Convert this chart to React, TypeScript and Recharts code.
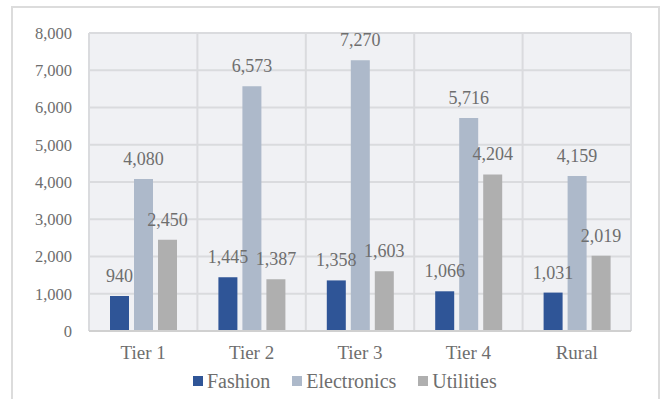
import React from "react";
import { BarChart, Bar, XAxis, YAxis, CartesianGrid, Legend, LabelList } from "recharts";

const categories = ["Tier 1", "Tier 2", "Tier 3", "Tier 4", "Rural"];
const fashion = [940, 1445, 1358, 1066, 1031];
const electronics = [4080, 6573, 7270, 5716, 4159];
const utilities = [2450, 1387, 1603, 4204, 2019];
const yTicks = [0, 1000, 2000, 3000, 4000, 5000, 6000, 7000, 8000];

const seriesList = [
  { key: "fashion", name: "Fashion", color: "#2F5597" },
  { key: "electronics", name: "Electronics", color: "#ADB9CA" },
  { key: "utilities", name: "Utilities", color: "#AFAFAF" },
];

const rows = categories.map((c, i) => ({
  category: c,
  fashion: fashion[i],
  electronics: electronics[i],
  utilities: utilities[i],
}));

const FONT = "Liberation Serif, DejaVu Serif, Noto Serif, serif";
const TEXT = "#6e6e6e";
const fmt = (v: number) => Number(v).toLocaleString("en-US");

const LegendContent = () => (
  <div style={{ display: "flex", alignItems: "center", fontFamily: FONT, fontSize: 20, color: TEXT }}>
    {seriesList.map((s, i) => (
      <div key={s.key} style={{ display: "flex", alignItems: "center", marginLeft: i === 0 ? 0 : 22 }}>
        <span style={{ display: "inline-block", width: 10, height: 10, background: s.color, marginRight: 4 }} />
        <span style={{ lineHeight: "22px" }}>{s.name}</span>
      </div>
    ))}
  </div>
);

export default function App() {
  return (
    <div style={{ position: "absolute", left: 0, top: 0, width: 665, height: 399, background: "#fff", overflow: "hidden" }}>
      <div
        style={{
          position: "absolute",
          left: 11,
          top: 6,
          width: 649,
          height: 420,
          border: "2px solid #dcdcdc",
          boxSizing: "border-box",
        }}
      />
      <div style={{ position: "absolute", left: 0, top: 0 }}>
        <BarChart
          width={665}
          height={399}
          data={rows}
          margin={{ top: 33, right: 34, bottom: 0, left: 0 }}
          barSize={19}
          barGap={5}
        >
          <CartesianGrid
            fill="#F0F1F4"
            stroke="#DADBDE"
            strokeWidth={2}
            verticalCoordinatesGenerator={({ offset }: any) =>
              categories.map((_, i) => offset.left + (i * offset.width) / categories.length).concat(offset.left + offset.width)
            }
          />
          <XAxis
            dataKey="category"
            height={68}
            tickLine={false}
            tickSize={0}
            tickMargin={15}
            axisLine={{ stroke: "#D0D0D0", strokeWidth: 2 }}
            tick={{ fontFamily: FONT, fontSize: 19, fill: TEXT }}
          />
          <YAxis
            width={89}
            domain={[0, 8000]}
            ticks={yTicks}
            interval={0}
            axisLine={false}
            tickLine={false}
            tickSize={0}
            tickMargin={17}
            tickFormatter={fmt}
            tick={{ fontFamily: FONT, fontSize: 16.5, fill: TEXT }}
          />
          <Legend
            verticalAlign="middle"
            align="center"
            content={<LegendContent />}
            wrapperStyle={{ top: 370, left: 193, width: 420, height: 22 }}
          />
          {seriesList.map((s) => (
            <Bar key={s.key} dataKey={s.key} name={s.name} fill={s.color} isAnimationActive={false}>
              <LabelList
                dataKey={s.key}
                position="top"
                offset={14}
                formatter={fmt}
                style={{ fontFamily: FONT, fontSize: 18, fill: TEXT }}
              />
            </Bar>
          ))}
        </BarChart>
      </div>
    </div>
  );
}
